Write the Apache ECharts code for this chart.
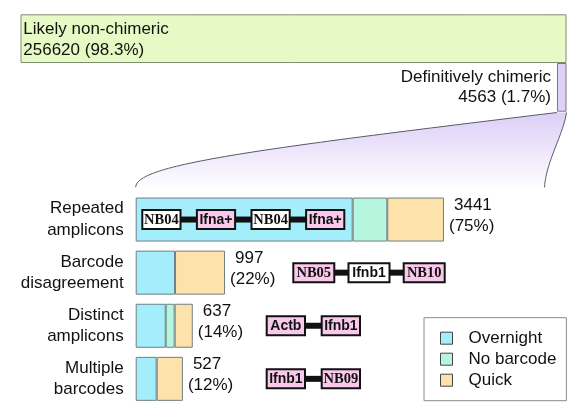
<!DOCTYPE html>
<html><head><meta charset="utf-8">
<script src="https://cdn.jsdelivr.net/npm/echarts@6/dist/echarts.min.js"></script>
<style>html,body{margin:0;padding:0;background:#fff}#c{width:577px;height:420px}</style>
</head><body><div id="c"></div>
<script>
// ---- data ----
const topCategories = ['Likely non-chimeric', 'Definitively chimeric'];
const topValues = [256620, 4563];
const topPercents = ['98.3%', '1.7%'];
const categories = ['Repeated\namplicons', 'Barcode\ndisagreement', 'Distinct\namplicons', 'Multiple\nbarcodes'];
const totals = [3441, 997, 637, 527];
const percents = ['75%', '22%', '14%', '12%'];
const seriesNames = ['Overnight', 'No barcode', 'Quick'];
const overnight = [2422, 439, 335, 234];
const noBarcode = [386, 0, 100, 0];
const quick = [633, 558, 202, 293];
const diagramLabels = [
  ['NB04', 'Ifna+', 'NB04', 'Ifna+'],
  ['NB05', 'Ifnb1', 'NB10'],
  ['Actb', 'Ifnb1'],
  ['Ifnb1', 'NB09']
];
const diagramHighlighted = [
  [false, true, false, true],
  [true, false, true],
  [true, true],
  [true, true]
];

// ---- style ----
const FONT = 'Liberation Sans';
const TXT = '#111';
const colors = { Overnight: '#a4eefb', 'No barcode': '#b6f6de', Quick: '#fde2ab' };
const diagramLayout = [
  { x: 142.3, w: 38.2, gap: 16.4 },
  { x: 293.3, w: 41, gap: 14.2 },
  { x: 266.7, w: 38.3, gap: 16.7 },
  { x: 266.7, w: 38.3, gap: 16.7 }
];

const chart = echarts.init(document.getElementById('c'), null, { renderer: 'canvas' });
const grandTotal = topValues[0] + topValues[1];

const stackSeries = [overnight, noBarcode, quick].map((arr, k) => ({
  name: seriesNames[k],
  type: 'bar',
  stack: 'chim',
  xAxisIndex: 1, yAxisIndex: 1,
  barWidth: 44,
  data: arr.map(v => v === 0 ? null : v),
  itemStyle: { color: colors[seriesNames[k]], borderColor: '#6f7f84', borderWidth: 1 },
  label: k === 2 ? {
    show: true, position: 'right', distance: 5, offset: [0, -4],
    formatter: p => '{a|' + totals[p.dataIndex] + '}\n{b|(' + percents[p.dataIndex] + ')}',
    rich: {
      a: { fontSize: 17, lineHeight: 21, fontFamily: FONT, color: TXT, padding: [0, 0, 0, 5] },
      b: { fontSize: 17, lineHeight: 21, fontFamily: FONT, color: TXT }
    }
  } : { show: false },
  emphasis: { disabled: true }
}));

chart.setOption({
  animation: false,
  textStyle: { fontFamily: FONT },
  grid: [
    { left: 20.5, top: 14.3, width: 546, height: 97.4 },
    { left: 135.7, top: 193, width: 408.8, height: 212.4 }
  ],
  xAxis: [
    { gridIndex: 0, type: 'value', min: 0, max: grandTotal, show: false },
    { gridIndex: 1, type: 'value', min: 0, max: topValues[1], show: false }
  ],
  yAxis: [
    { gridIndex: 0, type: 'category', inverse: true, data: topCategories, show: false },
    { gridIndex: 1, type: 'category', inverse: true, data: categories,
      axisLine: { show: false }, axisTick: { show: false }, splitLine: { show: false },
      axisLabel: { fontSize: 17, lineHeight: 21.5, color: TXT, margin: 12, fontFamily: FONT } }
  ],
  legend: {
    data: seriesNames,
    orient: 'vertical', left: 424, top: 317.7,
    padding: [12, 10, 12, 16], itemGap: 4,
    itemWidth: 12, itemHeight: 12, icon: 'rect',
    borderColor: '#8a8a8a', borderWidth: 1, backgroundColor: '#fff',
    itemStyle: { borderColor: '#444', borderWidth: 1 },
    textStyle: { fontSize: 17, color: TXT, fontFamily: FONT, padding: [0, 0, 0, 11] },
    selectedMode: false
  },
  series: [
    {
      name: 'all', type: 'bar', stack: 'top', xAxisIndex: 0, yAxisIndex: 0, barCategoryGap: 0,
      data: [grandTotal, null],
      itemStyle: { color: '#e7fac5', borderColor: '#7f8f72', borderWidth: 1 },
      label: {
        show: true, position: [2.8, 4.6], align: 'left', verticalAlign: 'top',
        fontSize: 17, lineHeight: 20.8, color: TXT, fontFamily: FONT,
        formatter: () => topCategories[0] + '\n' + topValues[0] + ' (' + topPercents[0] + ')'
      },
      emphasis: { disabled: true }
    },
    {
      name: 'base', type: 'bar', stack: 'top', xAxisIndex: 0, yAxisIndex: 0, barCategoryGap: 0,
      data: [null, topValues[0]], itemStyle: { color: 'transparent' }, emphasis: { disabled: true }, silent: true
    },
    {
      name: 'chimeric', type: 'bar', stack: 'top', xAxisIndex: 0, yAxisIndex: 0, barCategoryGap: 0,
      data: [null, topValues[1]],
      itemStyle: { color: '#ddd1f6', borderColor: '#77778a', borderWidth: 1 },
      label: {
        show: true, position: 'left', distance: 6, align: 'right',
        fontSize: 17, lineHeight: 20.8, color: TXT, fontFamily: FONT,
        formatter: () => topCategories[1] + '\n' + topValues[1] + ' (' + topPercents[1] + ')'
      },
      emphasis: { disabled: true }
    }
  ].concat(stackSeries)
});

// ---- decorations: funnel + diagrams ----
const tl = chart.convertToPixel({ gridIndex: 0 }, [topValues[0], 1]);
const tr = chart.convertToPixel({ gridIndex: 0 }, [grandTotal, 1]);
const bl = chart.convertToPixel({ gridIndex: 1 }, [0, 0]);
const br = chart.convertToPixel({ gridIndex: 1 }, [topValues[1], 0]);
const topY = 112.5, botY = 187.3;
const TLx = tl[0], TRx = tr[0], BLx = bl[0], BRx = br[0];
const dy = botY - topY;
function cubic(p0, p1, p2, p3, n) {
  const pts = [];
  for (let i = 0; i <= n; i++) {
    const t = i / n, u = 1 - t;
    pts.push([
      u*u*u*p0[0] + 3*u*u*t*p1[0] + 3*u*t*t*p2[0] + t*t*t*p3[0],
      u*u*u*p0[1] + 3*u*u*t*p1[1] + 3*u*t*t*p2[1] + t*t*t*p3[1]
    ]);
  }
  return pts;
}
const leftCurve = cubic([BLx, botY], [BLx, botY - 0.3 * dy], [BLx + 0.27 * (TLx - BLx), botY - 0.5 * dy], [TLx, topY], 60);
const rightCurve = cubic([TRx, topY], [TRx - 0.15 * (TRx - BRx), topY + 0.3 * dy], [BRx + 0.08 * (TRx - BRx), botY - 0.35 * dy], [BRx, botY], 30);

const graphics = [
  { type: 'polygon', shape: { points: leftCurve.concat(rightCurve) }, z: 1, silent: true,
    style: { fill: { type: 'linear', x: 0, y: 0, x2: 0, y2: 1, colorStops: [
      { offset: 0, color: '#dccff6' }, { offset: 1, color: '#fefdff' }] }, stroke: null } },
  { type: 'polyline', shape: { points: leftCurve }, z: 2, silent: true,
    style: { fill: null, stroke: '#555a66', lineWidth: 1 } },
  { type: 'polyline', shape: { points: rightCurve }, z: 2, silent: true,
    style: { fill: null, stroke: '#555a66', lineWidth: 1 } }
];

const BOX_H = 19;
diagramLabels.forEach((row, i) => {
  const cy = chart.convertToPixel({ gridIndex: 1 }, [0, i])[1];
  const L = diagramLayout[i];
  row.forEach((lab, j) => {
    const x = L.x + j * (L.w + L.gap);
    if (j > 0) {
      graphics.push({ type: 'rect', z: 100, silent: true,
        shape: { x: x - L.gap - 1, y: cy - 3, width: L.gap + 2, height: 6 },
        style: { fill: '#111' } });
    }
    graphics.push({ type: 'rect', z: 101, silent: true,
      shape: { x: x, y: cy - BOX_H / 2, width: L.w, height: BOX_H },
      style: { fill: diagramHighlighted[i][j] ? '#f9c9ec' : '#ffffff', stroke: '#111', lineWidth: 2 } });
    const isNB = lab.indexOf('NB') === 0;
    graphics.push({ type: 'text', z: 102, silent: true,
      x: x + L.w / 2, y: cy + 0.5,
      style: { text: lab, align: 'center', verticalAlign: 'middle', fill: '#111',
        font: isNB ? 'bold 14.5px "Liberation Serif"' : 'bold 14px "Liberation Sans"' } });
  });
});

chart.setOption({ graphic: graphics });
</script>
</body></html>
